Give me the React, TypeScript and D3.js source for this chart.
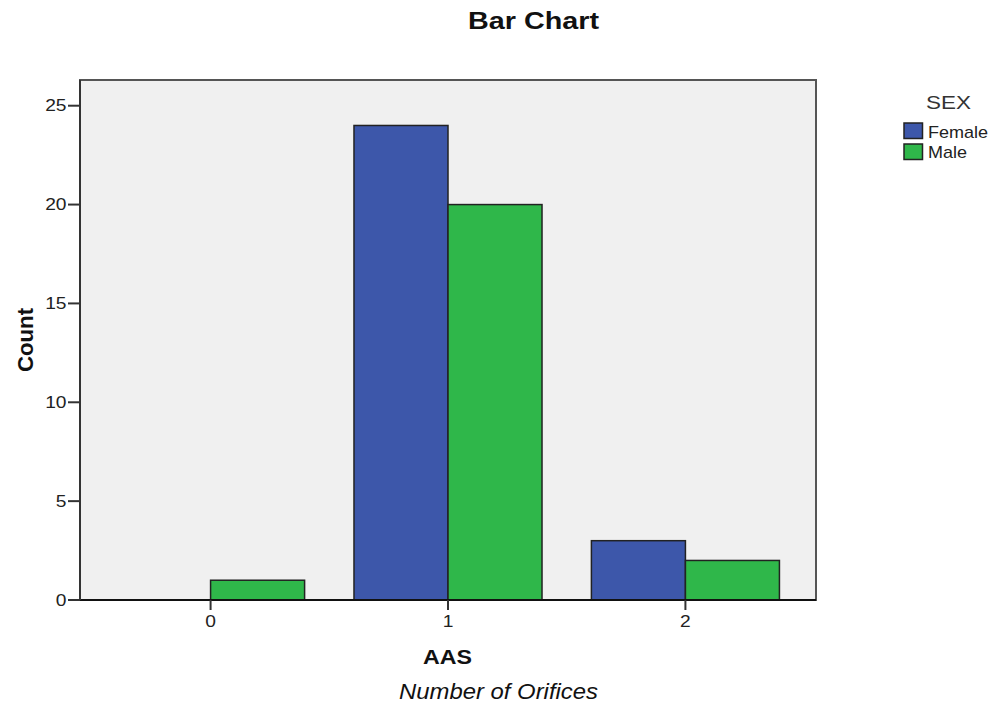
import React from "react";
import * as d3 from "d3";

const categories = ["0", "1", "2"];
const seriesNames = ["Female", "Male"];
const femaleValues = [0, 24, 3];
const maleValues = [1, 20, 2];
const yTicks = [0, 5, 10, 15, 20, 25];
const colors = ["#3d57aa", "#2fb74a"];

const SX = 1.2;

function STxt(props: { x: number; y: number; anchor?: string; size: number; weight?: string; italic?: boolean; fill?: string; sx?: number; children: React.ReactNode; dy?: string }) {
  const { x, y, anchor = "start", size, weight = "normal", italic = false, fill = "#222", sx = SX, children, dy } = props;
  return (
    <g transform={`translate(${x},${y}) scale(${sx},1)`}>
      <text x={0} y={0} dy={dy} textAnchor={anchor} fontSize={size} fontWeight={weight} fontStyle={italic ? "italic" : "normal"} fill={fill}>{children}</text>
    </g>
  );
}

export default function App() {
  const W = 993, H = 707;
  const left = 80, right = 816, top = 80, bottom = 600;
  const x = d3.scaleBand<string>().domain(categories).range([left, right]).paddingInner(0).paddingOuter(0.05);
  const y = d3.scaleLinear().domain([0, 26.3]).range([bottom, top]);
  const barW = x.bandwidth() * 0.396;
  const sub = d3.scaleBand<string>().domain(seriesNames).range([0, barW * 2]);
  const series = [femaleValues, maleValues];
  const font = "'Liberation Sans', Arial, sans-serif";
  return (
    <svg width={W} height={H} style={{ position: "absolute", left: 0, top: 0 }} fontFamily={font}>
      <rect x={0} y={0} width={W} height={H} fill="#fff" />
      <text x={533.5} y={29} textAnchor="middle" fontSize={23} fontWeight="bold" fill="#111" textLength={131} lengthAdjust="spacingAndGlyphs">Bar Chart</text>
      <rect x={left} y={top} width={right - left} height={bottom - top} fill="#f0f0f0" stroke="#555" strokeWidth={2} />
      {categories.map((c, i) => {
        const cx = x(c)! + x.bandwidth() / 2;
        return seriesNames.map((s, j) => {
          const v = series[j][i];
          if (v <= 0) return null;
          const bx = cx - barW + sub(s)!;
          return (
            <rect key={c + s} x={bx} y={y(v)} width={sub.bandwidth()} height={y(0) - y(v)}
              fill={colors[j]} stroke="#222" strokeWidth={1.5} />
          );
        });
      })}
      <line x1={left} x2={right} y1={bottom} y2={bottom} stroke="#111" strokeWidth={2} />
      <line x1={left} x2={left} y1={top} y2={bottom} stroke="#333" strokeWidth={2} />
      {yTicks.map(t => (
        <g key={t}>
          <line x1={left - 12} x2={left} y1={y(t)} y2={y(t)} stroke="#333" strokeWidth={2} />
          <STxt x={left - 13.5} y={y(t)} dy="0.36em" anchor="end" size={16}>{t}</STxt>
        </g>
      ))}
      {categories.map(c => {
        const cx = x(c)! + x.bandwidth() / 2;
        return (
          <g key={c}>
            <line x1={cx} x2={cx} y1={bottom} y2={bottom + 10} stroke="#333" strokeWidth={2} />
            <STxt x={cx} y={627} anchor="middle" size={16}>{c}</STxt>
          </g>
        );
      })}
      <text transform={`translate(33,${(top + bottom) / 2}) rotate(-90)`} textAnchor="middle" fontSize={22} fontWeight="bold" fill="#111" textLength={64} lengthAdjust="spacingAndGlyphs">Count</text>
      <text x={447.5} y={664} textAnchor="middle" fontSize={21} fontWeight="bold" fill="#111" textLength={49} lengthAdjust="spacingAndGlyphs">AAS</text>
      <text x={498.5} y={699} textAnchor="middle" fontSize={22} fontStyle="italic" fill="#111" textLength={199} lengthAdjust="spacingAndGlyphs">Number of Orifices</text>
      <text x={948.5} y={109} textAnchor="middle" fontSize={19} fill="#333" textLength={45} lengthAdjust="spacingAndGlyphs">SEX</text>
      {seriesNames.map((s, j) => (
        <g key={s}>
          <rect x={904} y={123 + j * 21} width={18.5} height={15.5} fill={colors[j]} stroke="#222" strokeWidth={1.5} />
          <text x={928} y={138 + j * 20} fontSize={17} fill="#222" textLength={j === 0 ? 60 : 39} lengthAdjust="spacingAndGlyphs">{s}</text>
        </g>
      ))}
    </svg>
  );
}
